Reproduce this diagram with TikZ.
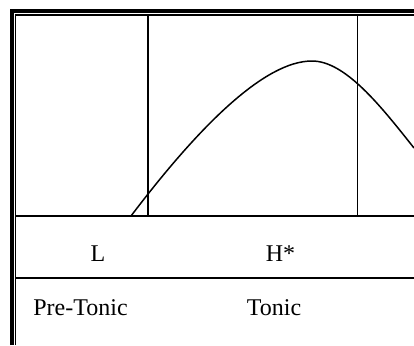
\documentclass[tikz,border=0pt]{standalone}
\usepackage{fontspec}
\setmainfont{Liberation Serif}
\usepackage{tikz}
\usetikzlibrary{positioning}

\begin{document}
\begin{tikzpicture}[x=0.5pt, y=-0.5pt, font=\fontsize{12}{14}\selectfont]
    \useasboundingbox (0,0) rectangle (414,345);

    % Frame (double line, left and top)
    \draw[line width=2pt] (12,345) -- (12,11) -- (414,11);
    \draw[line width=0.75pt] (15.7,345) -- (15.7,15) -- (414,15);

    % Syllable boundaries
    \draw[line width=0.75pt] (148,15) -- (148,216);
    \draw[line width=0.75pt] (357.7,15) -- (357.7,216);

    % Rows
    \draw[line width=0.75pt] (15.7,216) -- (414,216);
    \draw[line width=0.75pt] (15.7,278) -- (414,278);

    % Pitch contour
    \draw[line width=0.75pt] (131,216) .. controls (200,125) and (265,61) .. (312,61)
        .. controls (345,61) and (380,105) .. (414,148);

    % Tones
    \node[anchor=base] (toneL) at (98,261) {L};
    \node[anchor=base] (toneH) at (280.5,261) {H*};

    % Positions
    \node[anchor=base] (pretonic) at (80.5,315) {Pre-Tonic};
    \node[anchor=base] (tonic) at (274,315) {Tonic};
\end{tikzpicture}
\end{document}
